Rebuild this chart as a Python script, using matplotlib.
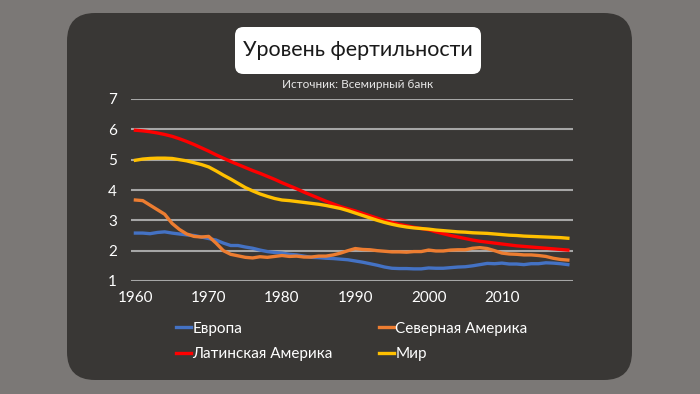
import matplotlib
matplotlib.use("Agg")
import matplotlib.pyplot as plt
from matplotlib.patches import FancyBboxPatch
import numpy as np

years = np.arange(1960, 2020)

europe = [2.58, 2.58, 2.56, 2.60, 2.62, 2.58, 2.55, 2.52, 2.50, 2.45,
          2.40, 2.35, 2.25, 2.17, 2.17, 2.12, 2.08, 2.02, 1.97, 1.94,
          1.92, 1.88, 1.86, 1.82, 1.78, 1.77, 1.75, 1.74, 1.72, 1.70,
          1.66, 1.62, 1.57, 1.52, 1.46, 1.42, 1.41, 1.41, 1.40, 1.40,
          1.43, 1.42, 1.42, 1.44, 1.46, 1.47, 1.50, 1.54, 1.58, 1.57,
          1.59, 1.56, 1.56, 1.54, 1.57, 1.57, 1.60, 1.59, 1.57, 1.54]

north_america = [3.67, 3.65, 3.50, 3.35, 3.20, 2.90, 2.70, 2.55, 2.47, 2.45,
                 2.47, 2.25, 2.00, 1.88, 1.83, 1.78, 1.76, 1.80, 1.78, 1.81,
                 1.84, 1.81, 1.82, 1.79, 1.79, 1.82, 1.82, 1.86, 1.92, 2.00,
                 2.07, 2.04, 2.03, 2.00, 1.98, 1.96, 1.96, 1.95, 1.97, 1.97,
                 2.02, 1.99, 1.99, 2.02, 2.03, 2.03, 2.08, 2.10, 2.07, 2.00,
                 1.92, 1.89, 1.88, 1.86, 1.86, 1.84, 1.81, 1.75, 1.71, 1.69]

latin_america = [5.97, 5.95, 5.92, 5.88, 5.83, 5.77, 5.69, 5.60, 5.50, 5.39,
                 5.28, 5.16, 5.05, 4.94, 4.84, 4.74, 4.64, 4.55, 4.45, 4.35,
                 4.24, 4.14, 4.04, 3.93, 3.83, 3.73, 3.63, 3.54, 3.45, 3.38,
                 3.31, 3.23, 3.15, 3.07, 2.99, 2.93, 2.87, 2.82, 2.77, 2.73,
                 2.69, 2.62, 2.56, 2.50, 2.45, 2.40, 2.35, 2.31, 2.28, 2.25,
                 2.22, 2.19, 2.16, 2.14, 2.12, 2.10, 2.08, 2.06, 2.04, 2.02]

world = [4.98, 5.02, 5.04, 5.05, 5.05, 5.04, 5.00, 4.96, 4.90, 4.84,
         4.76, 4.63, 4.49, 4.36, 4.22, 4.08, 3.97, 3.87, 3.79, 3.72,
         3.67, 3.65, 3.62, 3.59, 3.56, 3.53, 3.49, 3.44, 3.39, 3.32,
         3.24, 3.16, 3.08, 3.00, 2.93, 2.87, 2.82, 2.78, 2.75, 2.73,
         2.71, 2.68, 2.66, 2.64, 2.62, 2.61, 2.59, 2.58, 2.57, 2.55,
         2.53, 2.51, 2.50, 2.48, 2.47, 2.46, 2.45, 2.44, 2.43, 2.41]

series = [("Европа", europe, "#4472C4"),
          ("Северная Америка", north_america, "#ED7D31"),
          ("Латинская Америка", latin_america, "#FF0000"),
          ("Мир", world, "#FFC000")]

plt.rcParams["font.family"] = ["Lato", "DejaVu Sans"]

fig = plt.figure(figsize=(7, 3.94), dpi=100)
fig.patch.set_facecolor("#7b7876")

# dark rounded panel
panel = FancyBboxPatch((67 / 700, 1 - 380 / 394), (632 - 67) / 700, (380 - 13) / 394,
                       boxstyle="round,pad=0,rounding_size=0.04",
                       transform=fig.transFigure, facecolor="#393735",
                       edgecolor="none", mutation_aspect=700 / 394, zorder=-2)
fig.patches.append(panel)

# title box
tbox = FancyBboxPatch((235 / 700, 1 - 74 / 394), (481 - 235) / 700, (74 - 27) / 394,
                      boxstyle="round,pad=0,rounding_size=0.012",
                      transform=fig.transFigure, facecolor="white",
                      edgecolor="none", mutation_aspect=700 / 394, zorder=-1)
fig.patches.append(tbox)
fig.text(358 / 700, 1 - 50.5 / 394, "Уровень фертильности", ha="center", va="center",
         fontsize=15.5, color="#1a1a1a")
fig.text(358 / 700, 1 - 85 / 394, "Источник: Всемирный банк", ha="center", va="center",
         fontsize=8.5, color="#e8e8e8")

ax = fig.add_axes([131 / 700, 1 - 281 / 394, (573 - 131) / 700, (281 - 99) / 394])
ax.set_zorder(2)
ax.set_facecolor("none")
ax.set_xlim(1959.4, 2019.7)
ax.set_ylim(1, 7)
ax.set_yticks(range(1, 8))
ax.set_xticks(range(1960, 2020, 10))
ax.grid(axis="y", color="#a6a6a6", linewidth=1.5)
ax.set_axisbelow(True)
for s in ax.spines.values():
    s.set_visible(False)
ax.tick_params(length=0, colors="white", labelsize=11)
ax.tick_params(axis="y", pad=10)
ax.tick_params(axis="x", pad=7)

handles = []
for name, vals, color in series:
    h, = ax.plot(years, vals, color=color, linewidth=2.4, label=name)
    handles.append(h)

# legend in row order: Европа, Северная Америка / Латинская Америка, Мир
leg = fig.legend([handles[0], handles[2], handles[1], handles[3]],
                 ["Европа", "Латинская Америка", "Северная Америка", "Мир"],
                 ncol=2, loc="upper left", bbox_to_anchor=(168 / 700, 1 - 314 / 394),
                 frameon=False, fontsize=11, labelcolor="white",
                 handlelength=1.0, handletextpad=0.1, columnspacing=3.0,
                 labelspacing=0.75, borderpad=0)

fig.savefig("out.png", dpi=100, facecolor=fig.get_facecolor())
